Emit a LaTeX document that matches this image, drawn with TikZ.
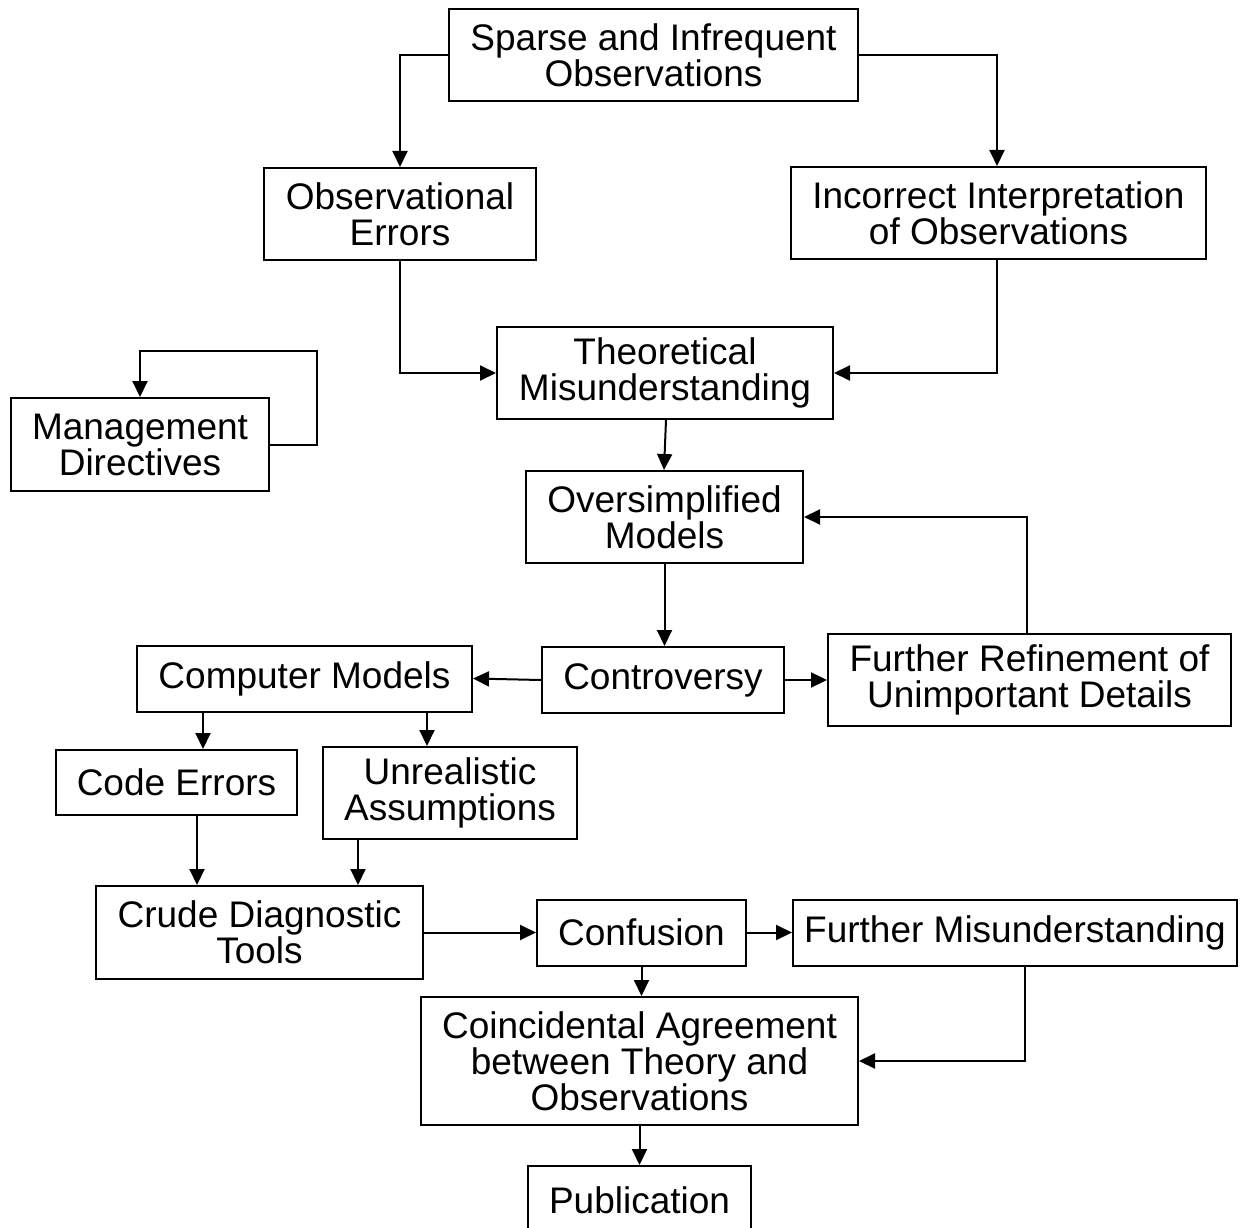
\documentclass[tikz,border=0pt]{standalone}
\usepackage{fontspec}
\setmainfont{Liberation Sans}
\usetikzlibrary{arrows.meta,calc}
\begin{document}
\begin{tikzpicture}[x=1pt,y=-1pt,
  box/.style={draw, line width=2pt, inner sep=0pt, align=center,
    font=\fontsize{37pt}{36pt}\selectfont},
  arr/.style={line width=2pt, -{Triangle[length=16pt,width=15pt]}}]
\useasboundingbox[fill=white] (0,0) rectangle (1243,1228);
\node[box, minimum width=409pt, minimum height=92pt] (sparse) at (653.5,55) {Sparse and Infrequent\\Observations};
\node[box, minimum width=272pt, minimum height=92pt] (obserr) at (400,214) {Observational\\Errors};
\node[box, minimum width=415pt, minimum height=92pt] (incorr) at (998.5,213) {Incorrect Interpretation\\of Observations};
\node[box, minimum width=336pt, minimum height=92pt] (theor) at (665,373) {Theoretical\\Misunderstanding};
\node[box, minimum width=258pt, minimum height=93pt] (mgmt) at (140,444.5) {Management\\Directives};
\node[box, minimum width=277pt, minimum height=92pt] (oversim) at (664.5,517) {Oversimplified\\Models};
\node[box, minimum width=242pt, minimum height=66pt] (contro) at (663,680) {Controversy};
\node[box, minimum width=403pt, minimum height=92pt] (refine) at (1029.5,680) {Further Refinement of\\Unimportant Details};
\node[box, minimum width=335pt, minimum height=66pt] (compm) at (304.5,678.5) {Computer Models};
\node[box, minimum width=241pt, minimum height=65pt] (codeerr) at (176.5,782.5) {Code Errors};
\node[box, minimum width=254pt, minimum height=92pt] (unreal) at (450,793) {Unrealistic\\Assumptions};
\node[box, minimum width=327pt, minimum height=93pt] (crude) at (259.5,932.5) {Crude Diagnostic\\Tools};
\node[box, minimum width=209pt, minimum height=66pt] (conf) at (641.5,932.5) {Confusion};
\node[box, minimum width=444pt, minimum height=66pt] (furmis) at (1015,932.5) {Further Misunderstanding};
\node[box, minimum width=437pt, minimum height=128pt] (coinc) at (639.5,1061) {Coincidental Agreement\\between Theory and\\Observations};
\node[box, minimum width=223pt, minimum height=68pt] (pub) at (639.5,1200) {Publication};
\coordinate (loop) at (317,351);
% connectors
\draw[arr] (sparse.west) -| (obserr.north);
\draw[arr] (sparse.east) -| ([xshift=-1.5pt]incorr.north);
\draw[arr] (obserr.south) |- (theor.west);
\draw[arr] ([xshift=-1.5pt]incorr.south) |- (theor.east);
\draw[arr] ([xshift=1pt]theor.south) -- ([xshift=-0.5pt]oversim.north);
\draw[arr] (mgmt.east) -| (loop) -| (mgmt.north);
\draw[arr] (oversim.south) -- (oversim.south |- contro.north);
\draw[arr] (contro.west) -- (compm.east);
\draw[arr] (contro.east) -- (refine.west);
\draw[arr] ([xshift=-2.5pt]refine.north) |- (oversim.east);
\draw[arr] ([xshift=-101.5pt]compm.south) -- ([xshift=-101.5pt]compm.south |- codeerr.north);
\draw[arr] ([xshift=122.5pt]compm.south) -- ([xshift=122.5pt]compm.south |- unreal.north);
\draw[arr] ([xshift=20.5pt]codeerr.south) -- ([xshift=20.5pt]codeerr.south |- crude.north);
\draw[arr] ([xshift=-92pt]unreal.south) -- ([xshift=-92pt]unreal.south |- crude.north);
\draw[arr] (crude.east) -- (conf.west);
\draw[arr] (conf.east) -- (furmis.west);
\draw[arr] (conf.south) -- (conf.south |- coinc.north);
\draw[arr] ([xshift=10pt]furmis.south) |- (coinc.east);
\draw[arr] (coinc.south) -- (pub.north);
\end{tikzpicture}
\end{document}
